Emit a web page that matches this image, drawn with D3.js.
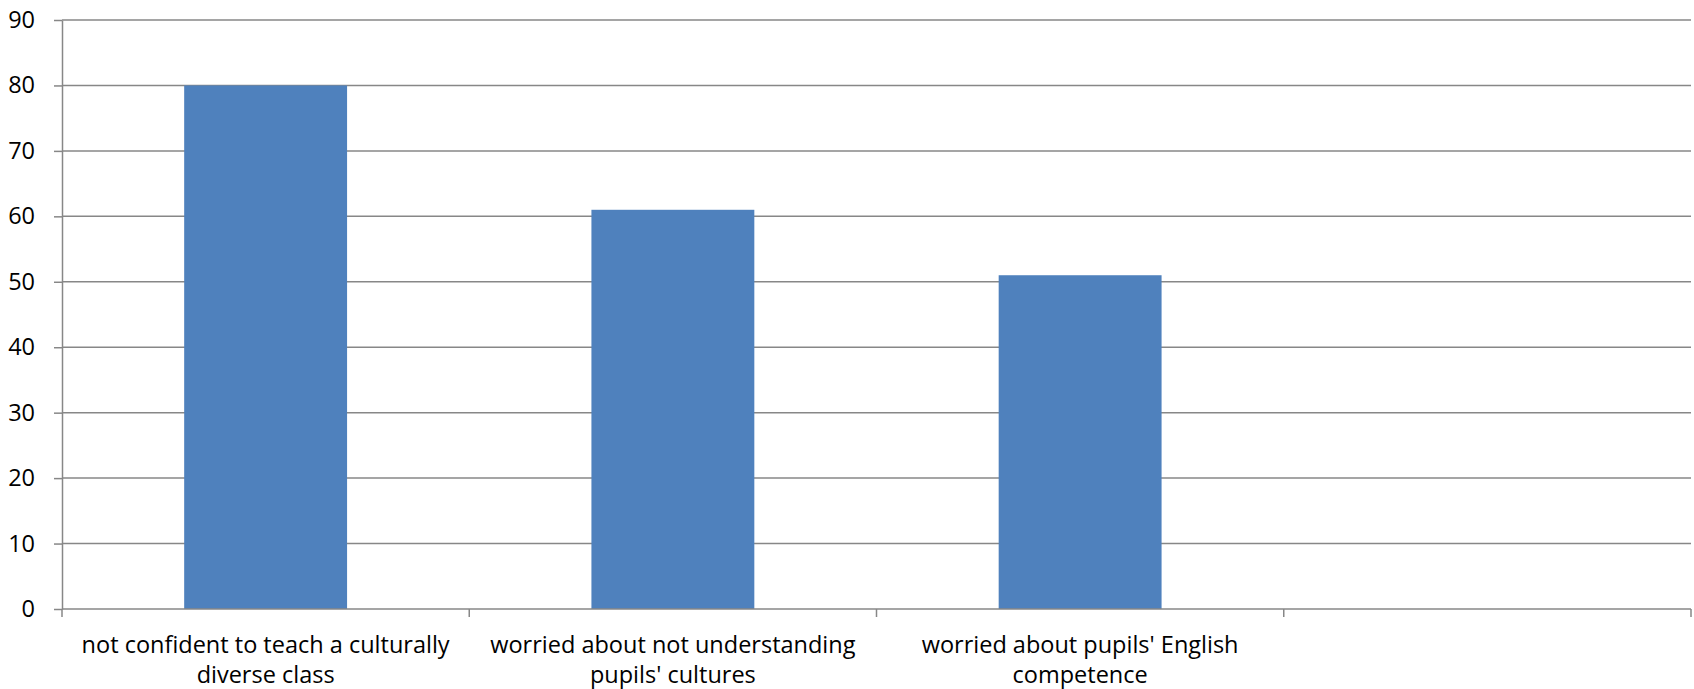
<!DOCTYPE html>
<html>
<head>
<meta charset="utf-8">
<script src="https://cdn.jsdelivr.net/npm/d3@7"></script>
<style>
  html, body { margin: 0; padding: 0; background: #fff; }
  svg { display: block; }
  text { font-family: "Open Sans", "Liberation Sans", sans-serif; fill: #000; }
</style>
</head>
<body>
<svg id="chart" width="1694" height="689"></svg>
<script>
// Categories (the fourth slot is an empty category), label lines and values
const categories = ["c1", "c2", "c3", "c4"];
const categoryLines = [
  ["not confident to teach a culturally", "diverse class"],
  ["worried about not understanding", "pupils' cultures"],
  ["worried about pupils' English", "competence"],
  []
];
const values = [80, 61, 51, null];
const yTicks = [0, 10, 20, 30, 40, 50, 60, 70, 80, 90];

const svg = d3.select("#chart");
const margin = { left: 62, right: 3, top: 20, bottom: 80 };
const W = 1694, H = 689;

const x = d3.scaleBand()
  .domain(categories)
  .range([margin.left, W - margin.right])
  .paddingInner(0.6)
  .paddingOuter(0.3);

const band = d3.scaleBand()
  .domain(categories)
  .range([margin.left, W - margin.right]);

const y = d3.scaleLinear()
  .domain([0, 90])
  .range([H - margin.bottom, margin.top]);

const gridColor = "#878787";

// horizontal gridlines
svg.append("g")
  .selectAll("line")
  .data(yTicks.filter(d => d > 0))
  .join("line")
  .attr("x1", margin.left)
  .attr("x2", W - margin.right)
  .attr("y1", d => y(d))
  .attr("y2", d => y(d))
  .attr("stroke", gridColor)
  .attr("stroke-width", 1.5);

// bars
svg.append("g")
  .selectAll("rect")
  .data(categories.map((c, i) => ({ c, v: values[i] })).filter(d => d.v != null))
  .join("rect")
  .attr("x", d => x(d.c))
  .attr("y", d => y(d.v))
  .attr("width", x.bandwidth())
  .attr("height", d => y(0) - y(d.v))
  .attr("fill", "#4F81BD");

// y axis
const yAxis = svg.append("g")
  .attr("transform", `translate(${margin.left},0)`)
  .call(d3.axisLeft(y).tickValues(yTicks).tickSize(8).tickPadding(19).tickSizeOuter(0));
yAxis.select(".domain").attr("stroke", gridColor).attr("stroke-width", 1.5);
yAxis.selectAll(".tick line").attr("stroke", gridColor).attr("stroke-width", 1.5);
yAxis.selectAll(".tick text")
  .attr("font-size", 23.5)
  .style("font-family", '"Open Sans", "Liberation Sans", sans-serif')
  .attr("fill", "#000");

// x axis: baseline plus ticks at category boundaries
const xg = svg.append("g");
xg.append("line")
  .attr("x1", margin.left)
  .attr("x2", W - margin.right)
  .attr("y1", y(0))
  .attr("y2", y(0))
  .attr("stroke", gridColor)
  .attr("stroke-width", 1.5);
const boundaries = categories.map(c => band(c)).concat([band(categories[categories.length - 1]) + band.bandwidth()]);
xg.selectAll("line.tick")
  .data(boundaries)
  .join("line")
  .attr("class", "tick")
  .attr("x1", d => d)
  .attr("x2", d => d)
  .attr("y1", y(0))
  .attr("y2", y(0) + 8)
  .attr("stroke", gridColor)
  .attr("stroke-width", 1.5);

// category labels
const labels = xg.selectAll("text")
  .data(categories.map((c, i) => ({ c, lines: categoryLines[i] })))
  .join("text")
  .attr("text-anchor", "middle")
  .attr("font-size", 23.5)
  .attr("x", d => band(d.c) + band.bandwidth() / 2)
  .attr("y", y(0) + 44);
labels.selectAll("tspan")
  .data(d => d.lines.map(l => ({ l, x: band(d.c) + band.bandwidth() / 2 })))
  .join("tspan")
  .attr("x", d => d.x)
  .attr("dy", (d, i) => i === 0 ? 0 : 30)
  .text(d => d.l);
</script>
</body>
</html>
